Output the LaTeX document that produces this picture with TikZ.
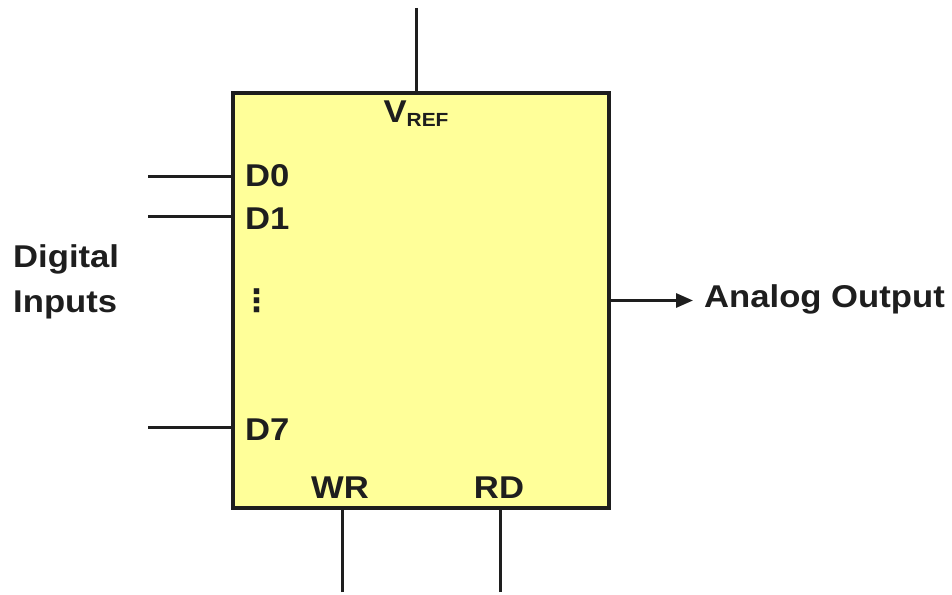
\documentclass[tikz,border=0pt]{standalone}
\usepackage{fontspec}
\setmainfont[FakeStretch=1.1]{Liberation Sans}
\newfontfamily\symfont{DejaVu Sans}
\usetikzlibrary{arrows.meta}
\definecolor{boxfill}{RGB}{255,255,153}
\definecolor{ink}{RGB}{30,30,30}
\begin{document}
\begin{tikzpicture}[x=1pt,y=-1pt,
  lbl/.style={font=\fontsize{31.5}{34}\selectfont\bfseries, text=ink, inner sep=0pt},
  wire/.style={draw=ink, line width=3pt}]
\useasboundingbox (0,0) rectangle (952,594);
\node[draw=ink, fill=boxfill, line width=3.2pt, minimum width=376pt, minimum height=415pt,
      inner sep=0pt, outer sep=0pt, anchor=north west] (dac) at (233,93) {};
% top VREF wire
\coordinate (vt) at (416,8);
\draw[wire] (vt) -- (vt |- dac.north);
% data inputs
\coordinate (d0) at (148,176);
\coordinate (d1) at (148,216);
\coordinate (d7) at (148,427);
\draw[wire] (d0) -- (d0 -| dac.west);
\draw[wire] (d1) -- (d1 -| dac.west);
\draw[wire] (d7) -- (d7 -| dac.west);
% bottom control wires
\coordinate (wrb) at (342,592);
\coordinate (rdb) at (500,592);
\draw[wire] (wrb) -- (wrb |- dac.south);
\draw[wire] (rdb) -- (rdb |- dac.south);
% output arrow
\coordinate (ae) at (693,300.5);
\draw[wire, -{Triangle[length=17pt,width=14pt]}] (dac.east) -- (ae);
% labels
\node[lbl, anchor=base] (vref) at (416,122) {V\raisebox{-4pt}{\fontsize{19}{20}\selectfont REF}};
\node[lbl, anchor=base west] (ld0) at (245,186) {D0};
\node[lbl, anchor=base west] (ld1) at (245,229) {D1};
\node[lbl, anchor=base west] (ld7) at (245,440) {D7};
\node[text=ink, inner sep=0pt, font=\symfont\bfseries\fontsize{31}{34}\selectfont] (dots) at (257,301) {⋮};
\node[lbl, anchor=base] (lwr) at (340,498) {WR};
\node[lbl, anchor=base] (lrd) at (499,498) {RD};
\node[lbl, anchor=base west] (lout) at (704,307) {Analog Output};
\node[lbl, anchor=base west] (ldig) at (13,267) {Digital};
\node[lbl, anchor=base west] (linp) at (13,312) {Inputs};
\end{tikzpicture}
\end{document}
